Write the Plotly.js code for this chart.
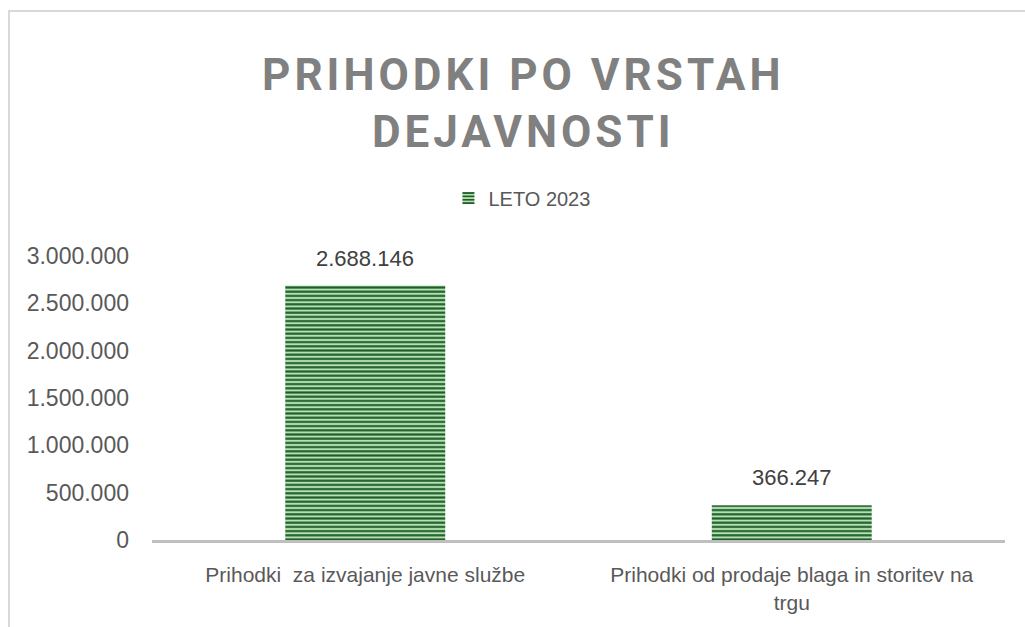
<!DOCTYPE html>
<html>
<head>
<meta charset="utf-8">
<script src="https://cdn.plot.ly/plotly-3.0.1.min.js"></script>
<style>
html, body { margin: 0; padding: 0; background: #fff; }
#wrap { position: relative; width: 1025px; height: 627px; overflow: hidden; }
#frame { position: absolute; left: 8px; top: 10px; width: 1100px; height: 700px; border: 2px solid #d9d9d9; box-sizing: border-box; pointer-events: none; }
#chart { position: absolute; left: 0; top: 0; width: 1025px; height: 627px; }
.gtitle { letter-spacing: 4px; }
</style>
</head>
<body>
<div id="wrap">
<div id="chart"></div>
<div id="frame"></div>
</div>
<script>
const categories = ["Prihodki  za izvajanje javne službe", "Prihodki od prodaje blaga in storitev na<br>trgu"];
const seriesName = "LETO 2023";
const values = [2688146, 366247];
const tickValues = [0, 500000, 1000000, 1500000, 2000000, 2500000, 3000000];

const trace = {
  type: 'bar',
  x: categories,
  y: values,
  name: seriesName,
  showlegend: true,
  width: 0.375,
  marker: {
    color: '#b3e0ae',
    line: { width: 0 },
    pattern: { shape: '-', fgcolor: '#1f5c2c', bgcolor: '#b3e0ae', size: 4.2, solidity: 0.5, fillmode: 'replace' }
  },
  hoverinfo: 'none'
};

const annotations = categories.map((c, i) => ({
  x: c, y: values[i], xref: 'x', yref: 'y',
  text: values[i].toLocaleString('de-DE'),
  showarrow: false, yanchor: 'bottom', yshift: 13,
  font: { family: 'Liberation Sans, Arial, sans-serif', size: 22, color: '#404040' }
}));

const layout = {
  width: 1025, height: 627,
  margin: { l: 152, r: 20, t: 256, b: 87, autoexpand: false },
  paper_bgcolor: 'rgba(0,0,0,0)',
  plot_bgcolor: 'rgba(0,0,0,0)',
  separators: ',.',
  title: {
    text: 'PRIHODKI PO VRSTAH<br>DEJAVNOSTI',
    x: 0.5105, xanchor: 'center', xref: 'container',
    y: 1 - 90 / 627, yanchor: 'top', yref: 'container',
    font: { family: 'Roboto, sans-serif', size: 44, color: '#808080', weight: 'bold' }
  },
  showlegend: true,
  legend: {
    orientation: 'h', xref: 'paper', x: 0.4337, xanchor: 'center', y: 1.204, yanchor: 'middle',
    font: { family: 'Liberation Sans, Arial, sans-serif', size: 20, color: '#595959' },
    itemwidth: 30
  },
  xaxis: {
    showgrid: false, showline: true, linecolor: '#bfbfbf', linewidth: 3,
    ticks: '', zeroline: false, fixedrange: true, tickangle: 0, automargin: false,
    tickfont: { family: 'Liberation Sans, Arial, sans-serif', size: 21, color: '#595959' },
    ticklabelstandoff: 14
  },
  yaxis: {
    range: [0, 3000000], tickvals: tickValues, tickformat: ',d', automargin: false,
    showgrid: false, showline: false, zeroline: false, ticks: '', fixedrange: true,
    tickfont: { family: 'Liberation Sans, Arial, sans-serif', size: 23, color: '#595959' },
    ticklabelstandoff: 22
  },
  bargap: 0.625,
  annotations: annotations
};

Plotly.newPlot('chart', [trace], layout, { displayModeBar: false, staticPlot: true });
</script>
</body>
</html>
